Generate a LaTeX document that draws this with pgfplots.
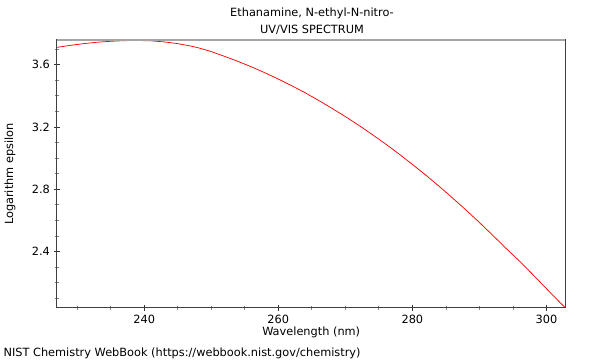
\documentclass[border=0pt]{standalone}
\usepackage{fontspec}
\setmainfont{DejaVu Sans}
\usepackage{pgfplots}
\pgfplotsset{compat=1.18}
\begin{document}
\begin{tikzpicture}
\fontsize{8.5}{10}\selectfont
\path[use as bounding box] (0,0) rectangle (450pt,270pt);
\begin{axis}[
  at={(42.75pt,39.2pt)}, anchor=south west,
  scale only axis, width=381.2pt, height=201pt,
  xmin=227, xmax=302.8, ymin=2.04, ymax=3.76,
  xtick={240,260,280,300},
  minor xtick={230,235,245,250,255,265,270,275,285,290,295},
  ytick={2.4,2.8,3.2,3.6},
  minor ytick={2.1,2.2,2.3,2.5,2.6,2.7,2.9,3.0,3.1,3.3,3.4,3.5,3.7},
  xtick pos=bottom, ytick pos=left,
  tick align=center,
  major tick length=4.5pt, minor tick length=3pt,
  major tick style={black!80, line width=0.6pt},
  minor tick style={gray, line width=0.6pt},
  axis line style={black!75, line width=0.75pt},
  /pgf/number format/assume math mode=true,
  tick label style={font=\fontsize{8.5}{10}\selectfont},
]
\addplot[red, line width=0.55pt] coordinates {
(227,3.711) (229,3.724) (231,3.735) (233,3.744) (235,3.750) (237,3.754)
(239,3.755) (241,3.753) (243,3.746) (245,3.735) (247,3.719) (248,3.709)
(249,3.697) (250,3.684) (252,3.653) (254,3.621) (256,3.586) (258,3.548)
(260,3.508) (262,3.465) (264,3.420) (266,3.371) (268,3.320) (270,3.267)
(272,3.211) (274,3.152) (276,3.091) (278,3.027) (280,2.960) (282,2.891)
(284,2.819) (286,2.744) (288,2.667) (290,2.587) (292,2.504) (294,2.420)
(296,2.338) (298,2.251) (300,2.162) (302,2.074) (302.8,2.040)
};
\draw[gray!70, line width=1.5pt] (rel axis cs:0,1) -- (rel axis cs:1,1);
\end{axis}
\node at (234pt, 260pt) {Ethanamine, N-ethyl-N-nitro-};
\node at (234pt, 248pt) {UV/VIS SPECTRUM};
\node at (233.4pt, 20.5pt) {Wavelength (nm)};
\node[rotate=90] at (7.5pt, 139.5pt) {Logarithm epsilon};
\node[anchor=west, inner sep=0pt] at (2.5pt, 5pt) {NIST Chemistry WebBook (https://webbook.nist.gov/chemistry)};
\end{tikzpicture}
\end{document}
